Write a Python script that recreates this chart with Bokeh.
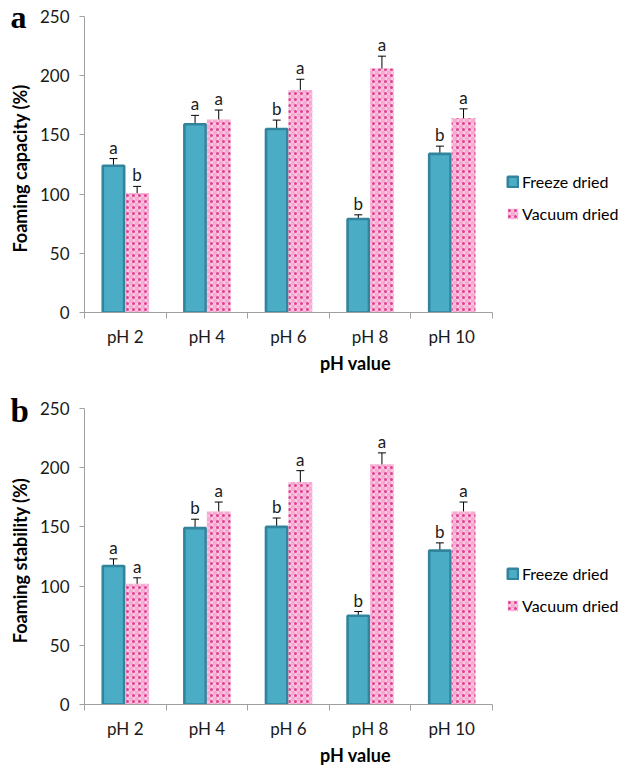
import math
from bokeh.plotting import figure
from bokeh.models import (ColumnDataSource, Range1d, LinearAxis, FixedTicker,
                          Whisker, TeeHead, Legend, LegendItem)
from bokeh.layouts import column, row
from bokeh.embed import file_html
from bokeh.resources import INLINE
from bokeh.core.properties import value

ph_labels = ["pH 2", "pH 4", "pH 6", "pH 8", "pH 10"]
y_ticks = [0, 50, 100, 150, 200, 250]

fc_freeze = [124, 159, 155, 79, 134]
fc_freeze_err = [6, 7.5, 7.5, 3.5, 6.5]
fc_freeze_letters = ["a", "a", "b", "b", "b"]
fc_vacuum = [101, 163, 188, 206, 164]
fc_vacuum_err = [5.5, 8, 9, 10.5, 8]
fc_vacuum_letters = ["b", "a", "a", "a", "a"]

fs_freeze = [117, 149, 150, 75, 130]
fs_freeze_err = [6, 7.5, 7.5, 3.5, 6.5]
fs_freeze_letters = ["a", "b", "b", "b", "b"]
fs_vacuum = [102, 163, 188, 203, 163]
fs_vacuum_err = [5, 8, 9.5, 9.5, 8]
fs_vacuum_letters = ["a", "a", "a", "a", "a"]

FONT = "Lato"
TEAL = "#4BACC6"
TEAL_DARK = "#31849B"
PINK_BG = "#F5ABD1"
PINK_CROSS = "#FCDDEC"
PINK_DOT = "#E23C8F"
AXIS_GRAY = "#A0A0A0"
TXT = "#1a1a1a"

NARROW_W = 34
MAIN_W = 594
FRAME_W = 408      # pixel width of the five pH categories
AXIS_H = 296       # pixel height of the 0-250 axis
RIGHT_PAD = 2
Y_MAX = 250


def side_strip(tag, ylabel, height, b_top, b_bottom, tag_baseline, title_center, tag_size):
    """Narrow strip holding the panel letter and the rotated y-axis title.
    Positions are pixels measured up from the bottom of the (aligned) frame."""
    fh = height - b_top - b_bottom
    s = figure(width=NARROW_W, height=height, output_backend="svg", toolbar_location=None,
               x_range=Range1d(0, NARROW_W), y_range=Range1d(0, fh),
               x_axis_type=None, y_axis_type=None,
               min_border_left=0, min_border_right=0,
               min_border_top=b_top, min_border_bottom=b_bottom)
    s.outline_line_color = None
    s.text(x=[10], y=[tag_baseline], text=[tag],
           text_font=value("Liberation Serif"), text_font_style="bold",
           text_font_size=tag_size, text_align="left", text_baseline="alphabetic",
           text_color="black")
    s.text(x=[19], y=[title_center], text=[ylabel], angle=math.pi / 2,
           text_font=value(FONT), text_font_style="bold", text_font_size="18px",
           text_align="center", text_baseline="middle", text_color="black")
    return s


def panel(freeze, freeze_err, freeze_let, vac, vac_err, vac_let,
          height, border_left, border_top, border_bottom, head_px):
    n = len(ph_labels)
    frame_px = MAIN_W - border_left - RIGHT_PAD
    x_end = n * frame_px / FRAME_W
    y_end = Y_MAX * (AXIS_H + head_px) / AXIS_H
    p = figure(width=MAIN_W, height=height, output_backend="svg", toolbar_location=None,
               x_range=Range1d(0, x_end), y_range=Range1d(0, y_end),
               x_axis_type=None, y_axis_type=None,
               min_border_left=border_left, min_border_right=RIGHT_PAD,
               min_border_top=border_top, min_border_bottom=border_bottom)
    p.outline_line_color = None

    centers = [i + 0.5 for i in range(n)]
    xf = [c - 0.145 for c in centers]
    xv = [c + 0.145 for c in centers]

    sf = ColumnDataSource(dict(x=xf, top=freeze,
                               upper=[a + b for a, b in zip(freeze, freeze_err)],
                               lower=[a - b for a, b in zip(freeze, freeze_err)],
                               let=freeze_let))
    sv = ColumnDataSource(dict(x=xv, top=vac,
                               upper=[a + b for a, b in zip(vac, vac_err)],
                               lower=[a - b for a, b in zip(vac, vac_err)],
                               let=vac_let))

    rf = p.vbar(x="x", top="top", bottom=0, width=0.262, source=sf,
                fill_color=TEAL, line_color=TEAL_DARK, line_width=2.6)
    rv1 = p.vbar(x="x", top="top", bottom=0, width=0.29, source=sv,
                 fill_color=PINK_BG, line_color=None,
                 hatch_pattern="+", hatch_color=PINK_CROSS, hatch_scale=6,
                 hatch_weight=1.2)
    rv2 = p.vbar(x="x", top="top", bottom=0, width=0.29, source=sv,
                 fill_alpha=0, line_color=None,
                 hatch_pattern=".", hatch_color=PINK_DOT, hatch_scale=6,
                 hatch_weight=1.0)

    for s in (sf, sv):
        w = Whisker(base="x", upper="upper", lower="lower", source=s,
                    line_color="black", line_width=1,
                    upper_head=TeeHead(size=8, line_color="black", line_width=1),
                    lower_head=TeeHead(size=8, line_color="black", line_width=1))
        p.add_layout(w)
        p.text(x="x", y="upper", text="let", source=s, text_font=value(FONT),
               text_font_size="17px", text_align="center", text_baseline="bottom",
               y_offset=-1, text_color=TXT)

    ya = LinearAxis(ticker=FixedTicker(ticks=y_ticks), bounds=(0, Y_MAX))
    ya.axis_line_color = AXIS_GRAY
    ya.major_tick_line_color = AXIS_GRAY
    ya.major_tick_out = 5
    ya.major_tick_in = 0
    ya.minor_tick_line_color = None
    ya.major_label_text_font = FONT
    ya.major_label_text_font_size = "17px"
    ya.major_label_text_color = TXT
    ya.major_label_standoff = 10
    p.add_layout(ya, "left")

    xa1 = LinearAxis(ticker=FixedTicker(ticks=list(range(n + 1))), bounds=(0, n))
    xa1.axis_line_color = AXIS_GRAY
    xa1.major_tick_line_color = AXIS_GRAY
    xa1.major_tick_out = 6
    xa1.major_tick_in = 0
    xa1.minor_tick_line_color = None
    xa1.major_label_text_font_size = "1px"
    xa1.major_label_text_alpha = 0
    xa1.major_label_standoff = 0
    p.add_layout(xa1, "below")

    xa2 = LinearAxis(ticker=FixedTicker(ticks=centers), axis_label="pH value",
                     bounds=(0, n))
    xa2.major_label_overrides = {c: lab for c, lab in zip(centers, ph_labels)}
    xa2.axis_line_color = None
    xa2.major_tick_line_color = None
    xa2.minor_tick_line_color = None
    xa2.major_tick_out = 0
    xa2.major_tick_in = 0
    xa2.major_label_text_font = FONT
    xa2.major_label_text_font_size = "17px"
    xa2.major_label_text_color = TXT
    xa2.major_label_standoff = 7
    xa2.axis_label_text_font = FONT
    xa2.axis_label_text_font_style = "bold"
    xa2.axis_label_text_font_size = "18px"
    xa2.axis_label_text_color = "black"
    xa2.axis_label_standoff = 2
    p.add_layout(xa2, "below")

    legend = Legend(items=[LegendItem(label="Freeze dried", renderers=[rf]),
                           LegendItem(label="Vacuum dried", renderers=[rv1, rv2])],
                    location=(FRAME_W + 14, 89), orientation="vertical",
                    label_text_font=FONT, label_text_font_size="16px",
                    label_text_color="black",
                    glyph_width=13, glyph_height=13, label_height=20,
                    label_standoff=3, spacing=12, padding=0, margin=0,
                    border_line_color=None, background_fill_alpha=0)
    p.add_layout(legend, "center")
    return p


TOP_H, TOP_BT, TOP_HEAD = 386, 6, 10
TOP_BB = TOP_H - TOP_BT - AXIS_H - TOP_HEAD
BOT_H, BOT_BT, BOT_HEAD = 384, 2, 20
BOT_BB = BOT_H - BOT_BT - AXIS_H - BOT_HEAD
LEFT = 50

s1 = side_strip("a", "Foaming capacity (%)", TOP_H, TOP_BT, TOP_BB, 296, 144, "32px")
p1 = panel(fc_freeze, fc_freeze_err, fc_freeze_letters,
           fc_vacuum, fc_vacuum_err, fc_vacuum_letters,
           TOP_H, LEFT, TOP_BT, TOP_BB, TOP_HEAD)
s2 = side_strip("b", "Foaming stability (%)", BOT_H, BOT_BT, BOT_BB, 294, 144, "33px")
p2 = panel(fs_freeze, fs_freeze_err, fs_freeze_letters,
           fs_vacuum, fs_vacuum_err, fs_vacuum_letters,
           BOT_H, LEFT, BOT_BT, BOT_BB, BOT_HEAD)

layout = column(row(s1, p1, spacing=0), row(s2, p2, spacing=0), spacing=0)
open("out.html", "w").write(file_html(layout, INLINE))
